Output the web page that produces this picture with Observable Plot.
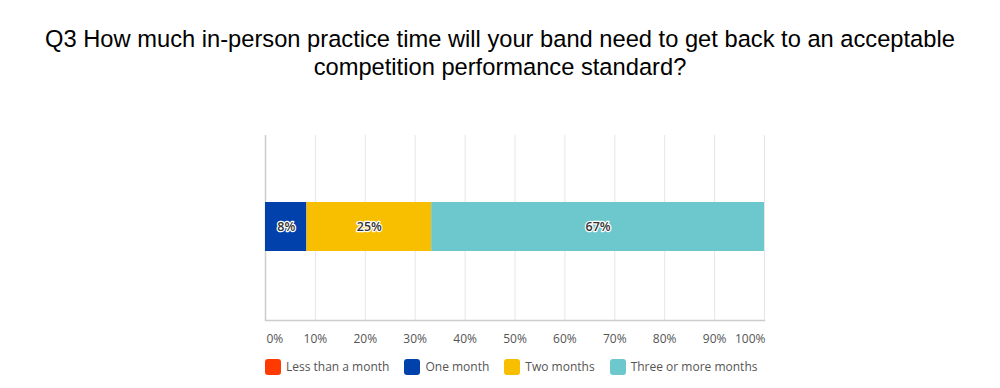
<!DOCTYPE html>
<html>
<head>
<meta charset="utf-8">
<script src="https://cdn.jsdelivr.net/npm/d3@7"></script>
<script src="https://cdn.jsdelivr.net/npm/@observablehq/plot@0.6"></script>
<style>
  body { margin: 0; background: #fff; width: 1000px; height: 388px; overflow: hidden; position: relative; }
  #title { position: absolute; top: 25px; left: 0; width: 1000px; text-align: center;
           font-family: "Liberation Sans", Arial, sans-serif; font-size: 23.7px; line-height: 28px; color: #000; }
  #chart { position: absolute; top: 100px; left: 0; }
  #legend { position: absolute; top: 358px; left: 265px; display: flex; align-items: center;
            font-family: "Open Sans", sans-serif; font-size: 12px; color: #555; }
  .item { display: flex; align-items: center; margin-right: 15px; }
  .sw { width: 16px; height: 16px; border-radius: 3px; margin-right: 5px; }
</style>
</head>
<body>
<div id="title">Q3 How much in-person practice time will your band need to get back to an acceptable<br>competition performance standard?</div>
<div id="chart"></div>
<div id="legend"></div>
<script>
const titleText = "Q3 How much in-person practice time will your band need to get back to an acceptable competition performance standard?";
const categories = ["Less than a month", "One month", "Two months", "Three or more months"];
const values = [0, 8.3, 25, 66.7];
const colors = ["#FF3A00", "#0041AC", "#F8BE00", "#6CC8CD"];
const ticks = [0, 10, 20, 30, 40, 50, 60, 70, 80, 90, 100];

let acc = 0;
const rows = categories.map((c, i) => {
  const x1 = acc; acc += values[i];
  return { category: c, value: values[i], x1, x2: acc, mid: (x1 + acc) / 2 };
});

const fontTick = "Open Sans, sans-serif";
const plot = Plot.plot({
  width: 1000,
  height: 250,
  marginLeft: 265,
  marginRight: 236,
  marginTop: 35,
  marginBottom: 30,
  x: { domain: [0, 100], axis: null },
  color: { domain: categories, range: colors },
  style: { fontFamily: fontTick, background: "#fff" },
  marks: [
    Plot.ruleX(ticks.slice(1), { stroke: "#e6e6e6", strokeWidth: 1 }),
    Plot.ruleX([0], { stroke: "#cccccc", strokeWidth: 1.5 }),
    Plot.frame({ anchor: "bottom", stroke: "#cccccc", strokeWidth: 1.5 }),
    Plot.barX(rows.filter(d => d.value > 0), { x1: "x1", x2: "x2", fill: "category", insetTop: 67, insetBottom: 69 }),
    Plot.text(rows.filter(d => d.value > 0), { x: "mid", text: d => Math.round(d.value) + "%", dy: -1,
      fill: "#333", stroke: "#fff", strokeWidth: 2.5, fontSize: 12.5, fontWeight: 600, fontFamily: fontTick }),
    Plot.text([ticks[0]], { x: d => d, text: d => d + "%", frameAnchor: "bottom", dy: 22, textAnchor: "start", dx: 1, fill: "#555", fontSize: 12 }),
    Plot.text(ticks.slice(1, -1), { x: d => d, text: d => d + "%", frameAnchor: "bottom", dy: 22, fill: "#555", fontSize: 12 }),
    Plot.text([ticks[ticks.length - 1]], { x: d => d, text: d => d + "%", frameAnchor: "bottom", dy: 22, textAnchor: "end", dx: 1, fill: "#555", fontSize: 12 })
  ]
});
document.getElementById("chart").appendChild(plot);

const legend = document.getElementById("legend");
categories.forEach((c, i) => {
  const item = document.createElement("div");
  item.className = "item";
  const sw = document.createElement("div");
  sw.className = "sw";
  sw.style.background = colors[i];
  const label = document.createElement("span");
  label.textContent = c;
  item.appendChild(sw);
  item.appendChild(label);
  legend.appendChild(item);
});
</script>
</body>
</html>
